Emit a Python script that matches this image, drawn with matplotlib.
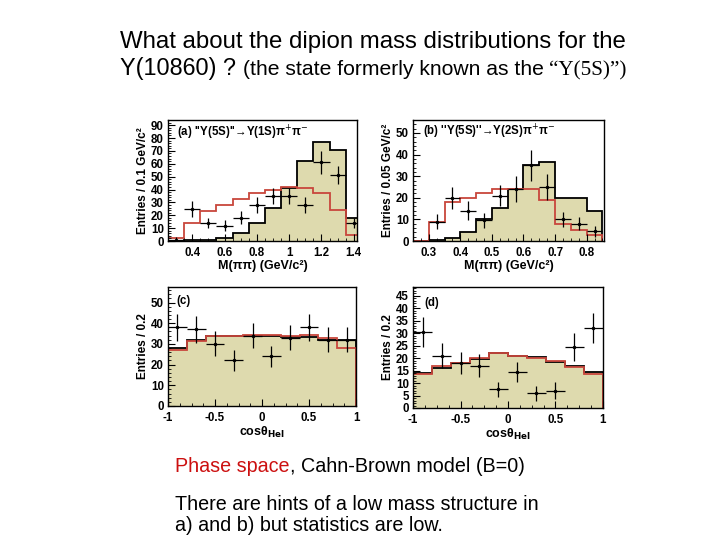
import matplotlib.pyplot as plt
from matplotlib.ticker import MultipleLocator, FixedLocator, FixedFormatter

plt.rcParams['font.family'] = ['Liberation Sans', 'DejaVu Sans']
plt.rcParams['mathtext.fontset'] = 'dejavusans'

FILL = '#dedaae'
RED = '#c8463c'

# (a) "Y(5S)" -> Y(1S) pi+ pi-
a_edges = [0.25, 0.35, 0.45, 0.55, 0.65, 0.75, 0.85, 0.95, 1.05, 1.15, 1.25, 1.35, 1.45]
a_cb = [0, 0.5, 1, 2, 6, 14, 26, 41, 62, 77, 71, 18]
a_ps = [2, 14, 23, 28, 33, 37, 40, 42, 41, 37, 24, 5]
a_x = [0.3, 0.4, 0.5, 0.6, 0.7, 0.8, 0.9, 1.0, 1.1, 1.2, 1.3, 1.4]
a_y = [1, 25, 14, 12, 18, 28, 35, 35, 28, 61, 51, 14]
a_err = [2, 6, 4, 4, 5, 6, 6, 6, 6, 9, 7, 4]

# (b) "Y(5S)" -> Y(2S) pi+ pi-
b_edges = [0.25, 0.30, 0.35, 0.40, 0.45, 0.50, 0.55, 0.60, 0.65, 0.70, 0.75, 0.80, 0.85]
b_cb = [0, 0.5, 1.5, 4, 10, 15.5, 24, 35, 36.5, 20, 20, 14]
b_ps = [0, 9, 18, 20, 22, 24, 24, 24, 19, 8, 5, 3]
b_x = [0.325, 0.375, 0.425, 0.475, 0.525, 0.575, 0.625, 0.675, 0.725, 0.775, 0.825]
b_y = [9, 20, 14, 9.5, 21, 24, 35, 25, 10, 8, 4.5]
b_err = [3.5, 5, 4.5, 3.5, 5, 6, 7, 6, 3.5, 3, 2.5]

# (c) helicity angle, Y(1S)
c_edges = [-1.0, -0.8, -0.6, -0.4, -0.2, 0.0, 0.2, 0.4, 0.6, 0.8, 1.0]
c_cb = [28, 32, 34, 34, 34, 34, 33.5, 33.5, 32, 32]
c_ps = [27, 31.5, 34, 34, 34.5, 34.5, 34, 34.5, 33, 28]
c_x = [-0.9, -0.7, -0.5, -0.3, -0.1, 0.1, 0.3, 0.5, 0.7, 0.9]
c_y = [38, 37, 30, 22, 34, 24, 33, 38, 32, 32]
c_err = [6.5, 6.5, 6, 5, 6, 5, 6, 6.5, 6, 6]

# (d) helicity angle, Y(2S)
d_edges = [-1.0, -0.8, -0.6, -0.4, -0.2, 0.0, 0.2, 0.4, 0.6, 0.8, 1.0]
d_cb = [14, 16, 18, 19.5, 22, 21, 20.5, 18.5, 17, 14.5]
d_ps = [13.5, 17, 18, 20, 22, 21, 20, 19, 16.5, 13.5]
d_x = [-0.9, -0.7, -0.5, -0.3, -0.1, 0.1, 0.3, 0.5, 0.7, 0.9]
d_y = [30.5, 21, 18, 17, 7.5, 14.5, 6, 7, 24.5, 32]
d_err = [6, 5, 4.5, 4.5, 3, 4, 3, 3.5, 5.5, 6]

W, H = 720, 540
fig = plt.figure(figsize=(7.2, 5.4), dpi=100)


def px_axes(x0, y0, x1, y1):
    return fig.add_axes([x0 / W, 1 - y1 / H, (x1 - x0) / W, (y1 - y0) / H])


def panel(ax, edges, cb, ps, x, y, err, xerr, xlim, ylim, xt, xtl, ymaj, ymin, xlab, ylab, tag):
    ax.stairs(cb, edges, fill=True, color=FILL, lw=0)
    ax.stairs(cb, edges, color='black', lw=1.3)
    ax.stairs(ps, edges, color=RED, lw=1.3)
    ax.errorbar(x, y, yerr=err, xerr=xerr, fmt='o', ms=1.5, color='black',
                elinewidth=0.9, capsize=0)
    ax.set_xlim(xlim)
    ax.set_ylim(ylim)
    ax.xaxis.set_major_locator(FixedLocator(xt))
    ax.xaxis.set_major_formatter(FixedFormatter(xtl))
    ax.yaxis.set_major_locator(MultipleLocator(ymaj))
    ax.yaxis.set_minor_locator(MultipleLocator(ymin))
    ax.xaxis.set_minor_locator(MultipleLocator((xt[1] - xt[0]) / 4))
    ax.tick_params(which='both', direction='in', top=False, right=False,
                   labelsize=8.3, pad=3)
    ax.tick_params(axis='x', pad=4)
    ax.tick_params(which='major', length=5)
    ax.tick_params(which='minor', length=2.5)
    for lab in ax.get_xticklabels() + ax.get_yticklabels():
        lab.set_fontweight('bold')
    ax.set_xlabel(xlab, fontsize=9, fontweight='bold', labelpad=1)
    ax.set_ylabel(ylab, fontsize=8.5, fontweight='bold', labelpad=1)
    ax.text(tag[0], tag[1], tag[2], transform=ax.transAxes, fontsize=8.3,
            fontweight='bold', va='center', ha='left')
    for s in ax.spines.values():
        s.set_linewidth(1.0)


ax_a = px_axes(168, 120, 357, 241)
panel(ax_a, a_edges, a_cb, a_ps, a_x, a_y, a_err, 0.05, (0.25, 1.42), (0, 94),
      [0.4, 0.6, 0.8, 1.0, 1.2, 1.4], ['0.4', '0.6', '0.8', '1', '1.2', '1.4'],
      10, 2, 'M(ππ) (GeV/c²)', 'Entries / 0.1 GeV/c²',
      (0.045, 0.89, '(a) \'\'Υ(5S)\'\'→Υ(1S)π$^{+}$π$^{-}$'))

ax_b = px_axes(413, 120, 604, 241)
panel(ax_b, b_edges, b_cb, b_ps, b_x, b_y, b_err, 0.025, (0.25, 0.855), (0, 56),
      [0.3, 0.4, 0.5, 0.6, 0.7, 0.8], ['0.3', '0.4', '0.5', '0.6', '0.7', '0.8'],
      10, 2, 'M(ππ) (GeV/c²)', 'Entries / 0.05 GeV/c²',
      (0.05, 0.90, '(b) \'\'Υ(5S)\'\'→Υ(2S)π$^{+}$π$^{-}$'))

ax_c = px_axes(168, 287, 356, 406)
panel(ax_c, c_edges, c_cb, c_ps, c_x, c_y, c_err, 0.1, (-1, 1), (0, 57.5),
      [-1, -0.5, 0, 0.5, 1], ['-1', '-0.5', '0', '0.5', '1'],
      10, 2, 'cosθ$_{\\mathbf{Hel}}$', 'Entries / 0.2', (0.045, 0.885, '(c)'))

ax_d = px_axes(413, 287, 603, 408)
panel(ax_d, d_edges, d_cb, d_ps, d_x, d_y, d_err, 0.1, (-1, 1), (0, 48.5),
      [-1, -0.5, 0, 0.5, 1], ['-1', '-0.5', '0', '0.5', '1'],
      5, 1, 'cosθ$_{\\mathbf{Hel}}$', 'Entries / 0.2', (0.06, 0.87, '(d)'))

renderer = fig.canvas.get_renderer()


def chain(x, y, pieces):
    # place text pieces one after another on the same baseline (pixel coords)
    for txt, kw in pieces:
        t = fig.text(x / W, 1 - y / H, txt, va='baseline', ha='left', **kw)
        bb = t.get_window_extent(renderer)
        x += bb.width


chain(120, 48, [('What about the dipion mass distributions for the', dict(fontsize=17.3))])
chain(120, 75, [('Y(10860) ? ', dict(fontsize=16.8)),
                ('(the state formerly known as the ', dict(fontsize=15.2)),
                ('“Υ(5S)”)', dict(fontsize=15.2, family='Liberation Serif'))])
chain(175, 472, [('Phase space', dict(fontsize=14.2, color='#cc1010')),
                 (', Cahn-Brown model (B=0)', dict(fontsize=14.2))])
chain(175, 510, [('There are hints of a low mass structure in', dict(fontsize=14.2))])
chain(175, 531, [('a) and b) but statistics are low.', dict(fontsize=14.2))])

fig.savefig('out.png', dpi=100)
